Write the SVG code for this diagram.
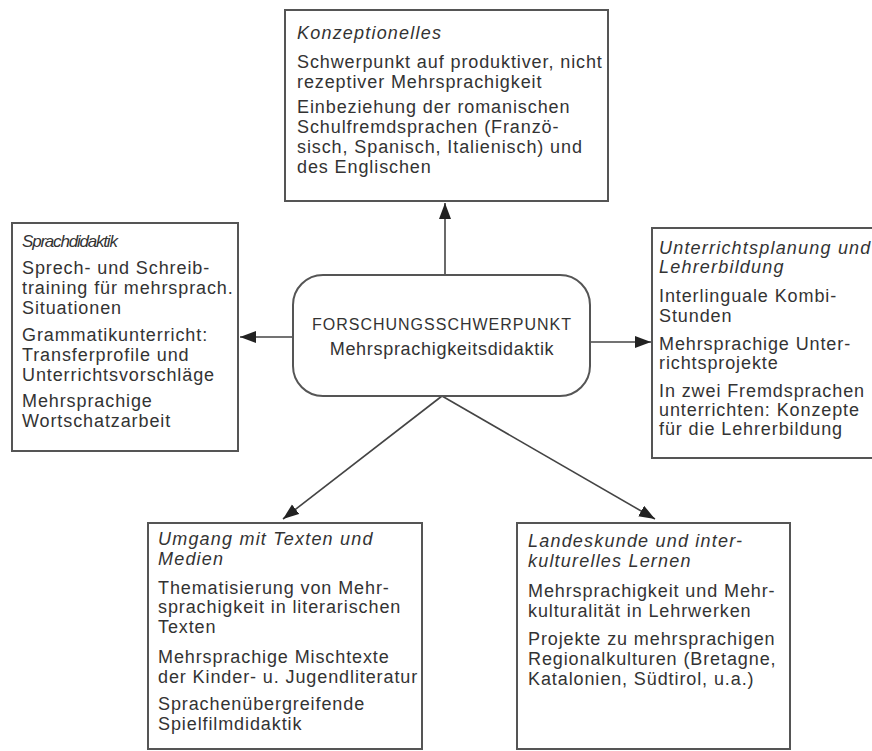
<svg xmlns="http://www.w3.org/2000/svg" width="872" height="751" viewBox="0 0 872 751">
<style>
  .box { fill: #fff; stroke: #555; stroke-width: 2; }
  .t { font-family: "Liberation Sans", Arial, sans-serif; font-size: 18px; fill: #333; letter-spacing: 0.9px; }
  .h { font-family: "Liberation Sans", Arial, sans-serif; font-size: 18px; font-style: italic; fill: #333; letter-spacing: 1.2px; }
  .c1 { font-family: "Liberation Sans", Arial, sans-serif; font-size: 16px; fill: #333; letter-spacing: 1px; text-anchor: middle; }
  .c2 { font-family: "Liberation Sans", Arial, sans-serif; font-size: 18px; fill: #333; letter-spacing: 0.7px; text-anchor: middle; }
  .conn line { stroke: #444; stroke-width: 1.6; marker-end: url(#arr); }
</style>
<defs>
  <marker id="arr" markerUnits="userSpaceOnUse" markerWidth="18" markerHeight="14" refX="16" refY="6" orient="auto">
    <path d="M0,0 L16,6 L0,12 Z" fill="#222"/>
  </marker>
</defs>
<rect width="872" height="751" fill="#fff"/>

<g id="connectors" class="conn">
  <line x1="445" y1="275" x2="445" y2="203"/>
  <line x1="293" y1="337" x2="240" y2="337"/>
  <line x1="590" y1="342" x2="651" y2="342"/>
  <line x1="442" y1="396" x2="283" y2="519"/>
  <line x1="442" y1="396" x2="655" y2="519"/>
</g>

<g id="center">
  <rect class="box" x="293" y="275" width="297" height="121" rx="30" ry="30"/>
  <text class="c1" x="442" y="330">FORSCHUNGSSCHWERPUNKT</text>
  <text class="c2" x="442" y="355">Mehrsprachigkeitsdidaktik</text>
</g>

<g id="konzeptionelles">
  <rect class="box" x="285" y="10" width="323" height="191"/>
  <text class="h" x="297" y="39">Konzeptionelles</text>
  <text class="t" x="297" y="68">Schwerpunkt auf produktiver, nicht</text>
  <text class="t" x="297" y="88">rezeptiver Mehrsprachigkeit</text>
  <text class="t" x="297" y="113">Einbeziehung der romanischen</text>
  <text class="t" x="297" y="133">Schulfremdsprachen (Franzö-</text>
  <text class="t" x="297" y="153">sisch, Spanisch, Italienisch) und</text>
  <text class="t" x="297" y="173">des Englischen</text>
</g>

<g id="sprachdidaktik">
  <rect class="box" x="12" y="223" width="226" height="228"/>
  <text class="h" x="22" y="247" style="font-size:17px;letter-spacing:-1.2px">Sprachdidaktik</text>
  <text class="t" x="22" y="274">Sprech- und Schreib-</text>
  <text class="t" x="22" y="294">training für mehrsprach.</text>
  <text class="t" x="22" y="314">Situationen</text>
  <text class="t" x="22" y="341">Grammatikunterricht:</text>
  <text class="t" x="22" y="361">Transferprofile und</text>
  <text class="t" x="22" y="381">Unterrichtsvorschläge</text>
  <text class="t" x="22" y="407">Mehrsprachige</text>
  <text class="t" x="22" y="427">Wortschatzarbeit</text>
</g>

<g id="unterrichtsplanung">
  <rect class="box" x="652" y="228" width="224" height="230"/>
  <text class="h" x="659" y="254">Unterrichtsplanung und</text>
  <text class="h" x="659" y="273">Lehrerbildung</text>
  <text class="t" x="659" y="302">Interlinguale Kombi-</text>
  <text class="t" x="659" y="322">Stunden</text>
  <text class="t" x="659" y="350">Mehrsprachige Unter-</text>
  <text class="t" x="659" y="369">richtsprojekte</text>
  <text class="t" x="659" y="397">In zwei Fremdsprachen</text>
  <text class="t" x="659" y="416">unterrichten: Konzepte</text>
  <text class="t" x="659" y="435">für die Lehrerbildung</text>
</g>

<g id="umgang">
  <rect class="box" x="148" y="523" width="274" height="226"/>
  <text class="h" x="158" y="545">Umgang mit Texten und</text>
  <text class="h" x="158" y="565">Medien</text>
  <text class="t" x="158" y="594">Thematisierung von Mehr-</text>
  <text class="t" x="158" y="613">sprachigkeit in literarischen</text>
  <text class="t" x="158" y="633">Texten</text>
  <text class="t" x="158" y="663">Mehrsprachige Mischtexte</text>
  <text class="t" x="158" y="683">der Kinder- u. Jugendliteratur</text>
  <text class="t" x="158" y="710">Sprachenübergreifende</text>
  <text class="t" x="158" y="730">Spielfilmdidaktik</text>
</g>

<g id="landeskunde">
  <rect class="box" x="517" y="523" width="273" height="226"/>
  <text class="h" x="528" y="547">Landeskunde und inter-</text>
  <text class="h" x="528" y="567">kulturelles Lernen</text>
  <text class="t" x="528" y="597">Mehrsprachigkeit und Mehr-</text>
  <text class="t" x="528" y="617">kulturalität in Lehrwerken</text>
  <text class="t" x="528" y="645">Projekte zu mehrsprachigen</text>
  <text class="t" x="528" y="665">Regionalkulturen (Bretagne,</text>
  <text class="t" x="528" y="685">Katalonien, Südtirol, u.a.)</text>
</g>
</svg>
